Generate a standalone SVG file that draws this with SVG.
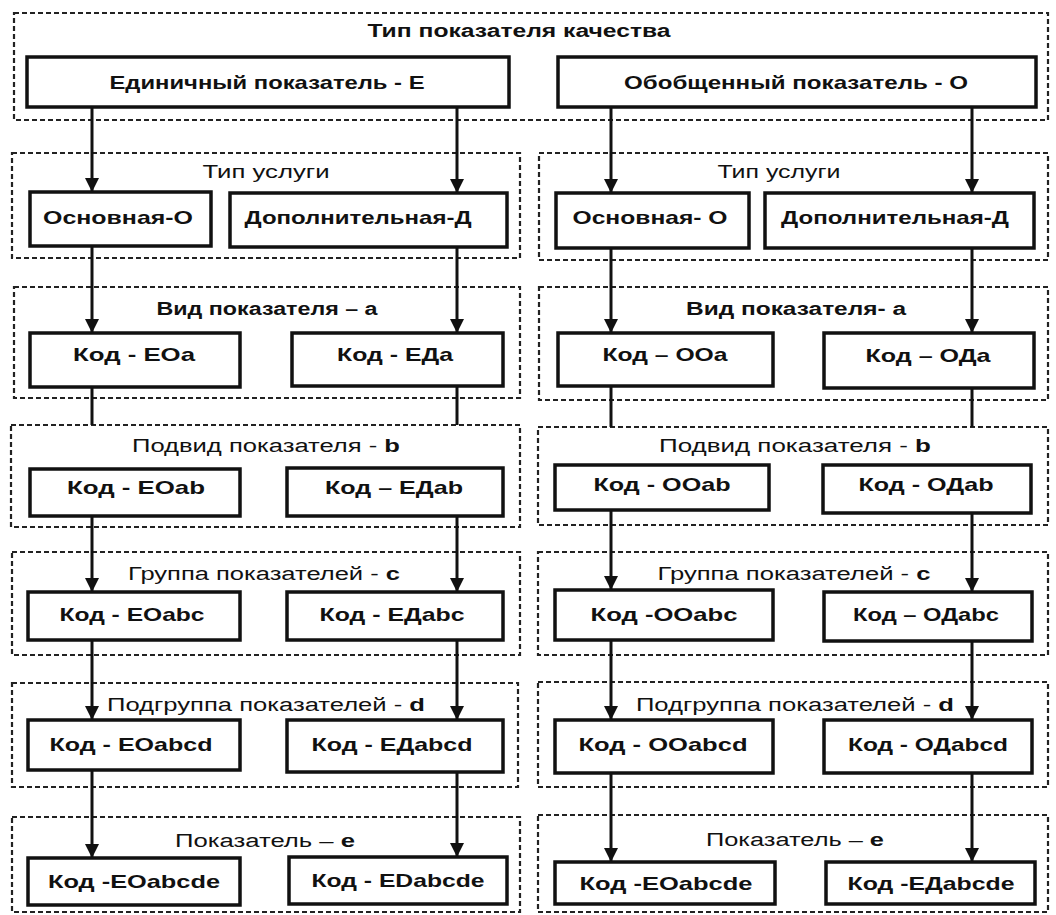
<svg xmlns="http://www.w3.org/2000/svg" width="1056" height="915" viewBox="0 0 1056 915">
<style>
.grp{fill:none;stroke:#222;stroke-width:2.2;stroke-dasharray:5 3}
.box{fill:#fff;stroke:#111;stroke-width:3.5}
.t{font-family:"Liberation Sans",Arial,sans-serif;font-size:18px;fill:#111;text-anchor:middle}
.k{font-family:"Liberation Sans",Arial,sans-serif;font-size:19px;fill:#111;text-anchor:middle;font-weight:bold}
.n{font-weight:normal}
.b{font-weight:bold}
.c{stroke:#111;stroke-width:3;fill:none}
.ca{stroke:#111;stroke-width:3;fill:none;marker-end:url(#ah)}
</style>
<defs>
<marker id="ah" viewBox="0 0 10 10" refX="10" refY="5" markerWidth="14" markerHeight="14" markerUnits="userSpaceOnUse" orient="auto">
<path d="M0,0 L10,5 L0,10 z" fill="#111"/>
</marker>
</defs>
<rect width="1056" height="915" fill="#fff"/>

<g id="groups">
<rect class="grp" x="14" y="13" width="1034" height="107"/>
<rect class="grp" x="12" y="153" width="508" height="105"/>
<rect class="grp" x="539" y="153" width="509" height="107"/>
<rect class="grp" x="14" y="287" width="506" height="111"/>
<rect class="grp" x="539" y="287" width="509" height="113"/>
<rect class="grp" x="11" y="425" width="509" height="102"/>
<rect class="grp" x="538" y="427" width="510" height="98"/>
<rect class="grp" x="12" y="552" width="508" height="103"/>
<rect class="grp" x="538" y="552" width="510" height="103"/>
<rect class="grp" x="12" y="683" width="506" height="104"/>
<rect class="grp" x="538" y="682" width="510" height="105"/>
<rect class="grp" x="12" y="817" width="508" height="95"/>
<rect class="grp" x="538" y="815" width="510" height="97"/>
</g>

<g id="titles">
<text class="t b" x="519" y="37" textLength="303" lengthAdjust="spacingAndGlyphs">Тип показателя качества</text>
<text class="t n" x="266" y="178" textLength="127" lengthAdjust="spacingAndGlyphs">Тип услуги</text>
<text class="t n" x="779" y="178" textLength="123" lengthAdjust="spacingAndGlyphs">Тип услуги</text>
<text class="t b" x="267" y="315" textLength="221" lengthAdjust="spacingAndGlyphs">Вид показателя – а</text>
<text class="t b" x="796" y="315" textLength="220" lengthAdjust="spacingAndGlyphs">Вид показателя- а</text>
<text class="t n" x="266" y="452" textLength="268" lengthAdjust="spacingAndGlyphs">Подвид показателя - <tspan class="b">b</tspan></text>
<text class="t n" x="795" y="452" textLength="272" lengthAdjust="spacingAndGlyphs">Подвид показателя - <tspan class="b">b</tspan></text>
<text class="t n" x="264" y="580" textLength="272" lengthAdjust="spacingAndGlyphs">Группа показателей - <tspan class="b">с</tspan></text>
<text class="t n" x="794" y="580" textLength="273" lengthAdjust="spacingAndGlyphs">Группа показателей - <tspan class="b">с</tspan></text>
<text class="t n" x="266" y="711" textLength="318" lengthAdjust="spacingAndGlyphs">Подгруппа показателей - <tspan class="b">d</tspan></text>
<text class="t n" x="795" y="711" textLength="318" lengthAdjust="spacingAndGlyphs">Подгруппа показателей - <tspan class="b">d</tspan></text>
<text class="t n" x="265" y="847" textLength="180" lengthAdjust="spacingAndGlyphs">Показатель – <tspan class="b">е</tspan></text>
<text class="t n" x="795" y="846" textLength="178" lengthAdjust="spacingAndGlyphs">Показатель – <tspan class="b">е</tspan></text>
</g>

<g id="connectors">
<line class="ca" x1="92" y1="107" x2="92" y2="192"/>
<line class="ca" x1="92" y1="246" x2="92" y2="333"/>
<line class="c" x1="92" y1="387" x2="92" y2="425"/>
<line class="ca" x1="92" y1="516" x2="92" y2="592"/>
<line class="ca" x1="92" y1="640" x2="92" y2="720"/>
<line class="ca" x1="92" y1="770" x2="92" y2="858"/>
<line class="ca" x1="457" y1="107" x2="457" y2="193"/>
<line class="ca" x1="457" y1="247" x2="457" y2="333"/>
<line class="c" x1="457" y1="386" x2="457" y2="425"/>
<line class="ca" x1="457" y1="516" x2="457" y2="592"/>
<line class="ca" x1="457" y1="640" x2="457" y2="720"/>
<line class="ca" x1="457" y1="772" x2="457" y2="857"/>
<line class="ca" x1="611" y1="107" x2="611" y2="193"/>
<line class="ca" x1="611" y1="248" x2="611" y2="333"/>
<line class="c" x1="611" y1="386" x2="611" y2="427"/>
<line class="ca" x1="611" y1="510" x2="611" y2="590"/>
<line class="ca" x1="611" y1="640" x2="611" y2="720"/>
<line class="ca" x1="611" y1="773" x2="611" y2="862"/>
<line class="ca" x1="972" y1="107" x2="972" y2="193"/>
<line class="ca" x1="972" y1="248" x2="972" y2="333"/>
<line class="c" x1="972" y1="388" x2="972" y2="427"/>
<line class="ca" x1="972" y1="513" x2="972" y2="592"/>
<line class="ca" x1="972" y1="641" x2="972" y2="720"/>
<line class="ca" x1="972" y1="773" x2="972" y2="862"/>
</g>

<g id="n-E"><rect class="box" x="27" y="57" width="482" height="50"/><text class="k" x="267" y="89" textLength="315" lengthAdjust="spacingAndGlyphs">Единичный показатель - Е</text></g>
<g id="n-O"><rect class="box" x="558" y="57" width="478" height="50"/><text class="k" x="796" y="89" textLength="344" lengthAdjust="spacingAndGlyphs">Обобщенный показатель - О</text></g>

<g id="n-EO"><rect class="box" x="30" y="192" width="181" height="54"/><text class="k" x="118" y="224" textLength="150" lengthAdjust="spacingAndGlyphs">Основная-О</text></g>
<g id="n-ED"><rect class="box" x="230" y="193" width="277" height="54"/><text class="k" x="358" y="224" textLength="227" lengthAdjust="spacingAndGlyphs">Дополнительная-Д</text></g>
<g id="n-OO"><rect class="box" x="556" y="193" width="193" height="55"/><text class="k" x="650" y="224" textLength="155" lengthAdjust="spacingAndGlyphs">Основная- О</text></g>
<g id="n-OD"><rect class="box" x="765" y="193" width="269" height="55"/><text class="k" x="895" y="224" textLength="228" lengthAdjust="spacingAndGlyphs">Дополнительная-Д</text></g>

<g id="n-EOa"><rect class="box" x="30" y="333" width="210" height="54"/><text class="k" x="134" y="361" textLength="122" lengthAdjust="spacingAndGlyphs">Код - ЕОа</text></g>
<g id="n-EDa"><rect class="box" x="292" y="333" width="211" height="53"/><text class="k" x="395" y="361" textLength="116" lengthAdjust="spacingAndGlyphs">Код - ЕДа</text></g>
<g id="n-OOa"><rect class="box" x="558" y="333" width="215" height="53"/><text class="k" x="665" y="361" textLength="125" lengthAdjust="spacingAndGlyphs">Код – ООа</text></g>
<g id="n-ODa"><rect class="box" x="824" y="333" width="210" height="55"/><text class="k" x="928" y="362" textLength="125" lengthAdjust="spacingAndGlyphs">Код – ОДа</text></g>

<g id="n-EOab"><rect class="box" x="30" y="469" width="210" height="47"/><text class="k" x="136" y="494" textLength="138" lengthAdjust="spacingAndGlyphs">Код - ЕОab</text></g>
<g id="n-EDab"><rect class="box" x="287" y="468" width="216" height="48"/><text class="k" x="394" y="494" textLength="138" lengthAdjust="spacingAndGlyphs">Код – ЕДab</text></g>
<g id="n-OOab"><rect class="box" x="555" y="465" width="214" height="45"/><text class="k" x="662" y="491" textLength="137" lengthAdjust="spacingAndGlyphs">Код - ООab</text></g>
<g id="n-ODab"><rect class="box" x="823" y="465" width="208" height="48"/><text class="k" x="926" y="491" textLength="135" lengthAdjust="spacingAndGlyphs">Код - ОДab</text></g>

<g id="n-EOabc"><rect class="box" x="28" y="592" width="212" height="48"/><text class="k" x="132" y="621" textLength="145" lengthAdjust="spacingAndGlyphs">Код - ЕОabc</text></g>
<g id="n-EDabc"><rect class="box" x="287" y="592" width="216" height="48"/><text class="k" x="392" y="621" textLength="145" lengthAdjust="spacingAndGlyphs">Код - ЕДabc</text></g>
<g id="n-OOabc"><rect class="box" x="555" y="590" width="218" height="50"/><text class="k" x="664" y="621" textLength="147" lengthAdjust="spacingAndGlyphs">Код -ООabc</text></g>
<g id="n-ODabc"><rect class="box" x="824" y="592" width="208" height="49"/><text class="k" x="926" y="621" textLength="146" lengthAdjust="spacingAndGlyphs">Код – ОДabc</text></g>

<g id="n-EOabcd"><rect class="box" x="28" y="720" width="212" height="50"/><text class="k" x="131" y="751" textLength="163" lengthAdjust="spacingAndGlyphs">Код - ЕОabcd</text></g>
<g id="n-EDabcd"><rect class="box" x="287" y="720" width="216" height="52"/><text class="k" x="392" y="751" textLength="161" lengthAdjust="spacingAndGlyphs">Код - ЕДabcd</text></g>
<g id="n-OOabcd"><rect class="box" x="555" y="720" width="218" height="53"/><text class="k" x="663" y="751" textLength="169" lengthAdjust="spacingAndGlyphs">Код - ООabcd</text></g>
<g id="n-ODabcd"><rect class="box" x="824" y="720" width="208" height="53"/><text class="k" x="928" y="751" textLength="160" lengthAdjust="spacingAndGlyphs">Код - ОДabcd</text></g>

<g id="n-EOabcde"><rect class="box" x="28" y="858" width="212" height="47"/><text class="k" x="134" y="888" textLength="172" lengthAdjust="spacingAndGlyphs">Код -ЕОabcde</text></g>
<g id="n-EDabcde"><rect class="box" x="289" y="857" width="218" height="47"/><text class="k" x="398" y="887" textLength="173" lengthAdjust="spacingAndGlyphs">Код - EDabcde</text></g>
<g id="n-OOabcde"><rect class="box" x="555" y="862" width="220" height="42"/><text class="k" x="666" y="890" textLength="173" lengthAdjust="spacingAndGlyphs">Код -ЕОabcde</text></g>
<g id="n-ODabcde"><rect class="box" x="826" y="862" width="209" height="42"/><text class="k" x="931" y="890" textLength="167" lengthAdjust="spacingAndGlyphs">Код -ЕДabcde</text></g>
</svg>
